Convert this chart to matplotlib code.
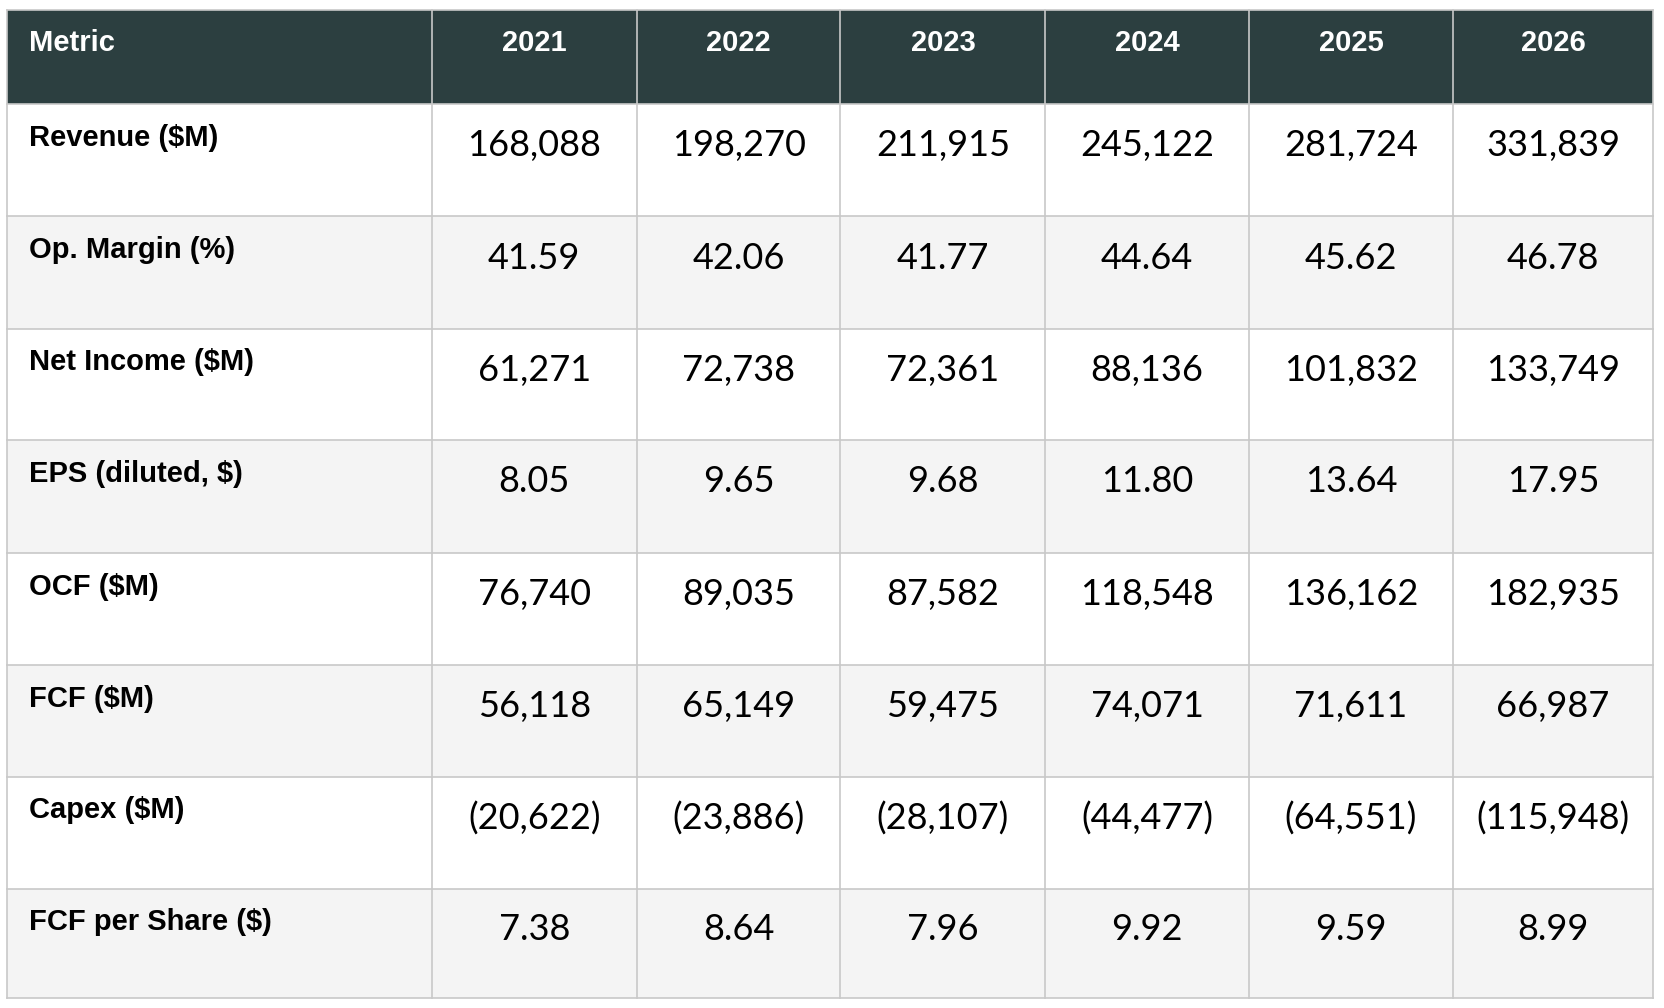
import matplotlib
matplotlib.use('Agg')
import matplotlib.pyplot as plt
from matplotlib.patches import Rectangle

columns = ['Metric', '2021', '2022', '2023', '2024', '2025', '2026']
metrics = ['Revenue ($M)', 'Op. Margin (%)', 'Net Income ($M)', 'EPS (diluted, $)',
           'OCF ($M)', 'FCF ($M)', 'Capex ($M)', 'FCF per Share ($)']
revenue = ['168,088', '198,270', '211,915', '245,122', '281,724', '331,839']
op_margin = ['41.59', '42.06', '41.77', '44.64', '45.62', '46.78']
net_income = ['61,271', '72,738', '72,361', '88,136', '101,832', '133,749']
eps = ['8.05', '9.65', '9.68', '11.80', '13.64', '17.95']
ocf = ['76,740', '89,035', '87,582', '118,548', '136,162', '182,935']
fcf = ['56,118', '65,149', '59,475', '74,071', '71,611', '66,987']
capex = ['(20,622)', '(23,886)', '(28,107)', '(44,477)', '(64,551)', '(115,948)']
fcf_ps = ['7.38', '8.64', '7.96', '9.92', '9.59', '8.99']
rows = [revenue, op_margin, net_income, eps, ocf, fcf, capex, fcf_ps]

HEADER = '#2c3f40'
ALT = '#f4f4f4'
GRID = '#c8c8c8'

# column / row edges as fractions of the image (y measured from top)
W, H = 1568.0, 950.0
xs = [x / W for x in (7, 407, 600, 792, 985, 1177, 1369, 1558)]
ys = [y / H for y in (9, 98, 204, 310, 415, 521, 627, 732, 838, 941)]

fig = plt.figure(figsize=(16.64, 10.08), dpi=100)
ax = fig.add_axes([0, 0, 1, 1])
ax.set_xlim(0, 1)
ax.set_ylim(1, 0)
ax.axis('off')

# header
ax.add_patch(Rectangle((xs[0], ys[0]), xs[-1] - xs[0], ys[1] - ys[0],
                       facecolor=HEADER, edgecolor='none'))
for j, c in enumerate(columns):
    ty = ys[0] + (ys[1] - ys[0]) * 0.35
    if j == 0:
        ax.text(xs[0] + 0.013, ty, c, color='white', fontsize=21, fontweight='bold',
                family='Liberation Sans', ha='left', va='center')
    else:
        ax.text((xs[j] + xs[j + 1]) / 2, ty, c, color='white', fontsize=21,
                fontweight='bold', family='Liberation Sans', ha='center', va='center')

# body
for i, (m, vals) in enumerate(zip(metrics, rows)):
    y0, y1 = ys[i + 1], ys[i + 2]
    ax.add_patch(Rectangle((xs[0], y0), xs[-1] - xs[0], y1 - y0,
                           facecolor='white' if i % 2 == 0 else ALT, edgecolor='none'))
    ax.text(xs[0] + 0.013, y0 + (y1 - y0) * 0.3, m, fontsize=21, fontweight='bold',
            family='Liberation Sans', ha='left', va='center', color='black')
    for j, v in enumerate(vals):
        ax.text((xs[j + 1] + xs[j + 2]) / 2, y0 + (y1 - y0) * 0.37, v, fontsize=26,
                family='Lato', ha='center', va='center', color='black')

# grid lines
for x in xs:
    ax.plot([x, x], [ys[0], ys[-1]], color=GRID, lw=1.2)
for y in ys:
    ax.plot([xs[0], xs[-1]], [y, y], color=GRID, lw=1.2)

fig.savefig('out.png', dpi=100)
